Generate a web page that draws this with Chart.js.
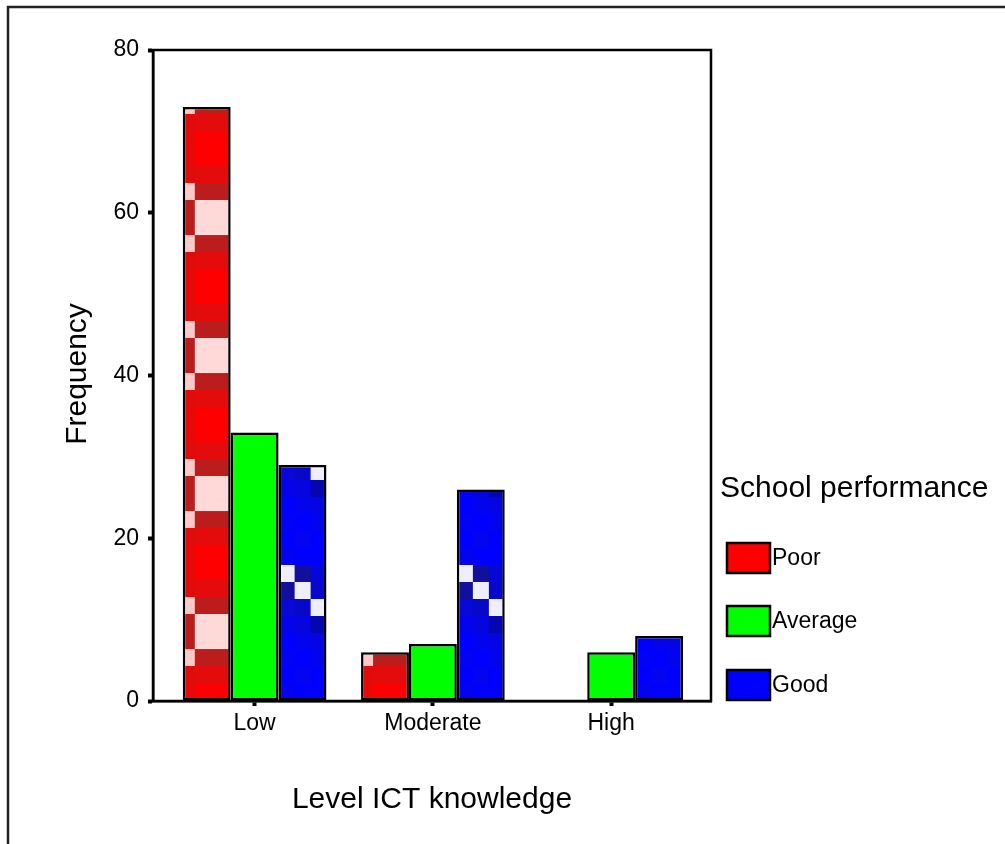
<!DOCTYPE html>
<html>
<head>
<meta charset="utf-8">
<script src="https://cdn.jsdelivr.net/npm/chart.js@4/dist/chart.umd.min.js"></script>
<style>
  html, body { margin: 0; padding: 0; background: #fff; }
  #wrap { width: 1005px; height: 844px; position: relative; }
</style>
</head>
<body>
<div id="wrap"><canvas id="c" width="1005" height="844"></canvas></div>
<script>
// ---- data ----
const categories = ['Low', 'Moderate', 'High'];
const seriesNames = ['Poor', 'Average', 'Good'];
const poorValues = [73, 6, 0];
const averageValues = [33, 7, 6];
const goodValues = [29, 26, 8];
const yTickValues = [0, 20, 40, 60, 80];
const xTitle = 'Level ICT knowledge';
const yTitle = 'Frequency';
const legendTitle = 'School performance';

// ---- styling ----
const FONT = '"Liberation Sans", Arial, Helvetica, sans-serif';
const CAT_PCT = 0.806;
const solidColors = ['#ff0000', '#00ff00', '#0000ff'];

function makeRedTile() {
  const c = document.createElement('canvas');
  c.width = 48; c.height = 138;
  const g = c.getContext('2d');
  const bands = [[17, 'red'], [17, 'e00'], [17, 'dark'], [35, 'pink'], [17, 'dark'], [17, 'e00'], [18, 'red']];
  let y = 0;
  for (const [h, t] of bands) {
    let l, r;
    if (t === 'red') { l = '#e80808'; r = '#ff0000'; }
    else if (t === 'e00') { l = '#e00c0c'; r = '#e30b0b'; }
    else if (t === 'dark') { l = '#ffc8c8'; r = '#bb1c1c'; }
    else { l = '#bb1c1c'; r = '#ffd8d8'; }
    g.fillStyle = l; g.fillRect(0, y, 12, h);
    g.fillStyle = r; g.fillRect(12, y, 36, h);
    y += h;
  }
  return c;
}
function makeBlueTile() {
  const c = document.createElement('canvas');
  c.width = 48; c.height = 136;
  const g = c.getContext('2d');
  g.fillStyle = '#0000ff'; g.fillRect(0, 0, 48, 136);
  const cells = [
    [0, 0, '#eeeeff'], [1, 0, '#10109c'], [2, 0, '#0606d8'],
    [0, 1, '#10109c'], [1, 1, '#eeeeff'], [2, 1, '#0808cc'],
    [0, 2, '#0808d8'], [1, 2, '#0808c8'], [2, 2, '#eeeeff'],
    [0, 3, '#0303ec'], [1, 3, '#0505e0'], [2, 3, '#0606b0'],
    [1, 4, '#0303ee'], [2, 4, '#0404e4'],
    [0, 5, '#0202f4'], [2, 5, '#0303ee'],
    [1, 6, '#0404f0'], [0, 7, '#0303f0']
  ];
  for (const [cx, cy, col] of cells) {
    g.fillStyle = col; g.fillRect(cx * 16, cy * 17, 16, 17);
  }
  return c;
}
const tiles = [makeRedTile(), null, makeBlueTile()];

function barFill(di) {
  return (ctx) => {
    if (ctx.type !== 'data' || !tiles[di]) return solidColors[di];
    const chart = ctx.chart;
    const xs = chart.scales.x, ys = chart.scales.y;
    if (!xs || !ys) return solidColors[di];
    const i = ctx.dataIndex;
    const center = xs.getPixelForValue(i);
    const spacing = xs.getPixelForValue(1) - xs.getPixelForValue(0);
    const size = spacing * CAT_PCT / 3;
    const left = center - 1.5 * size + di * size;
    const base = ys.getPixelForValue(0);
    const p = chart.ctx.createPattern(tiles[di], 'repeat');
    p.setTransform(new DOMMatrix().translateSelf(left, base));
    return p;
  };
}

const allSeries = [poorValues, averageValues, goodValues];
const datasets = allSeries.map((vals, di) => ({
  label: seriesNames[di],
  data: vals.map((v, i) => ({ x: i, y: v })),
  backgroundColor: barFill(di),
  borderColor: '#000',
  borderWidth: 2.5,
  borderSkipped: false,
  categoryPercentage: CAT_PCT,
  barPercentage: 1.0,
  inflateAmount: 0
}));

const decorPlugin = {
  id: 'decor',
  afterDraw(chart) {
    const g = chart.ctx;
    const a = chart.chartArea;
    g.save();
    // outer frame (top and left)
    g.strokeStyle = '#222';
    g.lineWidth = 2.5;
    g.beginPath();
    g.moveTo(8, 844); g.lineTo(8, 7); g.lineTo(1005, 7);
    g.stroke();
    // plot frame
    g.strokeStyle = '#000';
    g.lineWidth = 2.5;
    g.strokeRect(a.left, a.top, a.right - a.left, a.bottom - a.top);
    // axis titles
    g.fillStyle = '#000';
    g.font = '30px ' + FONT;
    g.textAlign = 'center';
    g.textBaseline = 'middle';
    g.fillText(xTitle, 432, 800);
    g.save();
    g.translate(78, 374);
    g.rotate(-Math.PI / 2);
    g.fillText(yTitle, 0, 0);
    g.restore();
    // legend
    g.textAlign = 'left';
    g.textBaseline = 'alphabetic';
    g.font = '30px ' + FONT;
    g.fillText(legendTitle, 720, 497);
    g.font = '23px ' + FONT;
    const tops = [543, 606, 670];
    seriesNames.forEach((name, k) => {
      g.fillStyle = solidColors[k];
      g.fillRect(727, tops[k], 43, 30);
      g.strokeStyle = '#000';
      g.lineWidth = 2.5;
      g.strokeRect(727, tops[k], 43, 30);
      g.fillStyle = '#000';
      g.textBaseline = 'middle';
      g.fillText(name, 772, tops[k] + 16);
    });
    g.restore();
  }
};

new Chart(document.getElementById('c'), {
  type: 'bar',
  data: { datasets },
  options: {
    responsive: false,
    animation: false,
    devicePixelRatio: 1,
    layout: { padding: { top: 50, right: 294, left: 0, bottom: 0 } },
    plugins: { legend: { display: false }, tooltip: { enabled: false }, title: { display: false } },
    scales: {
      x: {
        type: 'linear',
        min: -0.57,
        max: 2.56,
        offset: false,
        afterBuildTicks: (s) => { s.ticks = categories.map((_, i) => ({ value: i })); },
        afterFit: (s) => { s.height = 143; },
        ticks: {
          callback: (v) => categories[v] ?? '',
          color: '#000',
          font: { family: FONT, size: 23 },
          padding: 4,
          autoSkip: false,
          maxRotation: 0
        },
        grid: { display: true, offset: false, drawOnChartArea: false, drawTicks: true, tickLength: 5, tickWidth: 4, tickColor: '#000' },
        border: { display: true, color: '#000', width: 2.5 }
      },
      y: {
        min: 0,
        max: 80,
        afterBuildTicks: (s) => { s.ticks = yTickValues.map(v => ({ value: v })); },
        afterFit: (s) => { s.width = 153; },
        ticks: {
          color: '#000',
          font: { family: FONT, size: 23 },
          padding: 9
        },
        grid: { display: true, offset: false, drawOnChartArea: false, drawTicks: true, tickLength: 5, tickWidth: 4, tickColor: '#000' },
        border: { display: true, color: '#000', width: 2.5 }
      }
    }
  },
  plugins: [decorPlugin]
});
</script>
</body>
</html>
